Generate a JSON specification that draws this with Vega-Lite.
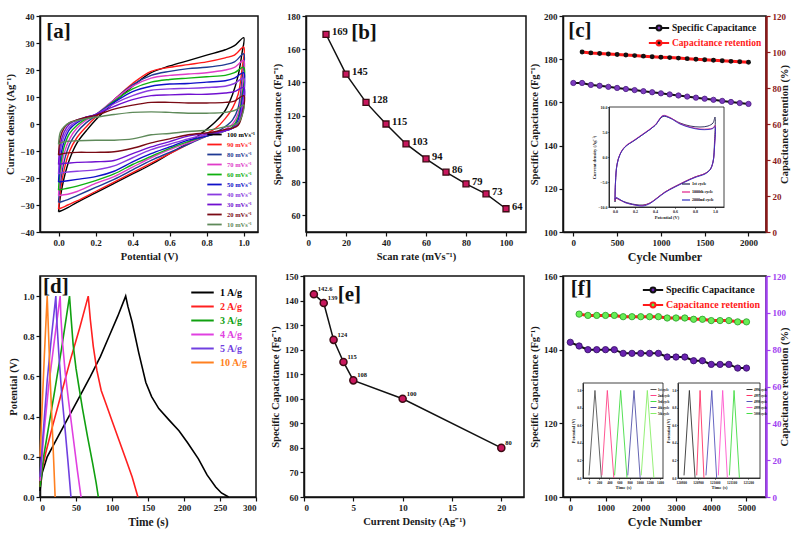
{
"$schema":"https://vega.github.io/schema/vega-lite/v6.json",
"background":"white",
"padding":{"left":5,"top":11,"right":5,"bottom":5},
"config":{
 "font":"Liberation Serif",
 "view":{"stroke":"#111","strokeWidth":1.5},
 "axis":{"labelFont":"Liberation Serif","labelFontWeight":"bold","labelFontSize":9,"labelColor":"#1a1a1a","labelOverlap":false,"tickCount":30,"titleFont":"Liberation Serif","titleFontWeight":"bold","titleFontSize":10.5,"titleColor":"#1a1a1a","grid":false,"domainColor":"#111","domainWidth":1.5,"tickColor":"#111","tickWidth":1.2,"tickSize":4,"labelPadding":2,"titlePadding":4},
 "legend":{"labelFont":"Liberation Serif","labelFontWeight":"bold","titleFont":"Liberation Serif"},
 "text":{"font":"Liberation Serif","fontWeight":"bold"}
},
"spacing":8,
"resolve":{"scale":{"color":"independent"},"legend":{"color":"independent"}},
"vconcat":[
{"hconcat":[
 {"width":218,"height":216,
  "layer":[
   {"data":{"values":[
    {"s":"100 mVs⁻¹","x":[0,0.01,0.03,0.06,0.1,0.15,0.2,0.3,0.4,0.5,0.6,0.7,0.8,0.9,0.95,1,0.99,0.97,0.94,0.9,0.85,0.8,0.7,0.6,0.5,0.4,0.3,0.2,0.1,0.05,0.02,0],"y":[-32.5,-27,-20,-13,-7,-2.5,1.5,8,14,19,21.5,23.5,25.5,27.5,29,32,26,18,11,5,1,-2,-7,-11,-15,-18.5,-22,-25.5,-29,-31,-32,-32.5]},
    {"s":"90 mVs⁻¹","x":[0,0.01,0.03,0.06,0.1,0.15,0.2,0.3,0.4,0.5,0.6,0.7,0.8,0.9,0.95,1,0.99,0.97,0.94,0.9,0.85,0.8,0.7,0.6,0.5,0.4,0.3,0.2,0.1,0.05,0.02,0],"y":[-31.5,-25,-17,-10,-5,-1,2.5,9,15,19.5,21,22,23,24.5,25.5,28.5,20,11,6,2,-1.5,-3.5,-7.5,-11,-14.5,-18,-21.5,-25,-28.5,-30,-31,-31.5]},
    {"s":"80 mVs⁻¹","x":[0,0.01,0.03,0.06,0.1,0.15,0.2,0.3,0.4,0.5,0.6,0.7,0.8,0.9,0.95,1,0.99,0.97,0.94,0.9,0.85,0.8,0.7,0.6,0.5,0.4,0.3,0.2,0.1,0.05,0.02,0],"y":[-29,-22,-14,-7.5,-3,0.5,3,9,14.5,18,19.5,20.5,21,22,23,26,16,6,1.5,-1,-3,-4.5,-7.5,-10.5,-13.5,-17,-20.5,-23.5,-26.5,-28,-28.7,-29]},
    {"s":"70 mVs⁻¹","x":[0,0.01,0.03,0.06,0.1,0.15,0.2,0.3,0.4,0.5,0.6,0.7,0.8,0.9,0.95,1,0.99,0.97,0.94,0.9,0.85,0.8,0.7,0.6,0.5,0.4,0.3,0.2,0.1,0.05,0.02,0],"y":[-26.5,-19,-11,-5.5,-1.5,1.5,3.5,9,14,17,18,18.5,19,20,21,23.5,13,4,0,-2,-3.5,-4.5,-7,-9.5,-12.5,-16,-19.5,-22,-25,-26,-26.3,-26.5]},
    {"s":"60 mVs⁻¹","x":[0,0.01,0.03,0.06,0.1,0.15,0.2,0.3,0.4,0.5,0.6,0.7,0.8,0.9,0.95,1,0.99,0.97,0.94,0.9,0.85,0.8,0.7,0.6,0.5,0.4,0.3,0.2,0.1,0.05,0.02,0],"y":[-24.5,-16,-8.5,-3.5,-0.5,2,3.5,8.5,13,15.5,16.5,17,17.5,18,19,21,10,2.5,-1,-2.5,-3.5,-4.5,-6.5,-9,-12,-15,-18.5,-21,-23,-23.8,-24.2,-24.5]},
    {"s":"50 mVs⁻¹","x":[0,0.01,0.03,0.06,0.1,0.15,0.2,0.3,0.4,0.5,0.6,0.7,0.8,0.9,0.95,1,0.99,0.97,0.94,0.9,0.85,0.8,0.7,0.6,0.5,0.4,0.3,0.2,0.1,0.05,0.02,0],"y":[-21.5,-13,-6.5,-2,0.5,2.5,3.5,8,12,14,14.8,15,15.5,16,17,19,8,1.5,-1.5,-2.5,-3.5,-4.5,-6,-8.5,-11,-14,-17.5,-19.5,-20.5,-21,-21.3,-21.5]},
    {"s":"40 mVs⁻¹","x":[0,0.01,0.03,0.06,0.1,0.15,0.2,0.3,0.4,0.5,0.6,0.7,0.8,0.9,0.95,1,0.99,0.97,0.94,0.9,0.85,0.8,0.7,0.6,0.5,0.4,0.3,0.2,0.1,0.05,0.02,0],"y":[-18.5,-10,-4.5,-1,1,2.5,3.5,7.5,10.5,12.5,13,13.2,13.5,14,15,17,6,0.5,-1.5,-2.5,-3.5,-4,-5.5,-7.5,-9.5,-12.5,-15.5,-17,-17.5,-17.8,-18,-18.5]},
    {"s":"30 mVs⁻¹","x":[0,0.01,0.03,0.06,0.1,0.15,0.2,0.3,0.4,0.5,0.6,0.7,0.8,0.9,0.95,1,0.99,0.97,0.94,0.9,0.85,0.8,0.7,0.6,0.5,0.4,0.3,0.2,0.1,0.05,0.02,0],"y":[-15,-7.5,-3,0,1.5,2.5,3.5,6.5,9,10.5,10.8,11,11,11.5,12,13.5,4,0,-1.5,-2.5,-3,-3.5,-4.5,-6.5,-8.5,-11,-13.5,-14,-14.2,-14.5,-14.7,-15]},
    {"s":"20 mVs⁻¹","x":[0,0.01,0.03,0.06,0.1,0.15,0.2,0.3,0.4,0.5,0.6,0.7,0.8,0.9,0.95,1,0.99,0.97,0.94,0.9,0.85,0.8,0.7,0.6,0.5,0.4,0.3,0.2,0.1,0.05,0.02,0],"y":[-11.5,-5,-1.5,0.5,1.5,2.5,3.2,5.5,7,8,8,7.8,7.8,8,8.5,10.5,3,-0.5,-1.5,-2,-2.8,-3.3,-4,-5.5,-7,-9,-10.3,-10.5,-10.5,-10.7,-11,-11.5]},
    {"s":"10 mVs⁻¹","x":[0,0.01,0.03,0.06,0.1,0.15,0.2,0.3,0.4,0.5,0.6,0.7,0.8,0.9,0.95,1,0.99,0.97,0.94,0.9,0.85,0.8,0.7,0.6,0.5,0.4,0.3,0.2,0.1,0.05,0.02,0],"y":[-7.5,-3,-1,0.5,1.3,2,2.5,3.5,4.3,4.5,4.3,4,4,4.3,5,7,3,0.5,-0.5,-1,-1.8,-2.3,-2.8,-3.5,-4,-5.5,-6,-6,-6.2,-6.4,-6.8,-7.5]}
   ]},
   "transform":[{"flatten":["x","y"]}],
   "mark":{"type":"line","strokeWidth":1.4,"interpolate":"catmull-rom"},
   "encoding":{
    "x":{"field":"x","type":"quantitative","scale":{"domain":[-0.1,1.077],"nice":false,"zero":false},"axis":{"values":[0,0.2,0.4,0.6,0.8,1],"tickCount":30,"format":".1f","title":"Potential (V)"}},
    "y":{"field":"y","type":"quantitative","scale":{"domain":[-40,40],"nice":false},"axis":{"values":[-40,-30,-20,-10,0,10,20,30,40],"tickCount":30,"title":"Current density (Ag⁻¹)"}},
    "color":{"field":"s","type":"nominal","scale":{"domain":["100 mVs⁻¹","90 mVs⁻¹","80 mVs⁻¹","70 mVs⁻¹","60 mVs⁻¹","50 mVs⁻¹","40 mVs⁻¹","30 mVs⁻¹","20 mVs⁻¹","10 mVs⁻¹"],"range":["#000000","#ff1a1a","#1f3a93","#e03cc8","#10b010","#1010c8","#8a3ce0","#7010d0","#7a0a14","#5f8a5a"]},
     "legend":{"orient":"bottom-right","title":null,"offset":3,"padding":0,"symbolType":"M-1.6,0L1.6,0","symbolSize":81,"symbolStrokeWidth":1.8,"labelFontSize":6.5,"rowPadding":0,"labelOffset":7,
      "encode":{"labels":{"update":{"fill":{"signal":"['#000000','#ff1a1a','#1f3a93','#e03cc8','#10b010','#1010c8','#8a3ce0','#7010d0','#7a0a14','#5f8a5a'][indexof(['100 mVs⁻¹','90 mVs⁻¹','80 mVs⁻¹','70 mVs⁻¹','60 mVs⁻¹','50 mVs⁻¹','40 mVs⁻¹','30 mVs⁻¹','20 mVs⁻¹','10 mVs⁻¹'], datum.value)]"}}}}}},
    "order":{"value":null}
   }},
   {"data":{"values":[{}]},"mark":{"type":"text","text":"[a]","fontSize":21,"color":"#111"},"encoding":{"x":{"datum":0.0},"y":{"datum":34}}}
  ]},
 {"hconcat":[
  {"width":220,"height":216,
   "data":{"values":[{"r":10,"c":169},{"r":20,"c":145},{"r":30,"c":128},{"r":40,"c":115},{"r":50,"c":103},{"r":60,"c":94},{"r":70,"c":86},{"r":80,"c":79},{"r":90,"c":73},{"r":100,"c":64}]},
   "layer":[
    {"mark":{"type":"line","color":"#111","strokeWidth":1.5},
     "encoding":{"x":{"field":"r","type":"quantitative","scale":{"domain":[0,110],"nice":false},"axis":{"values":[0,20,40,60,80,100],"tickCount":30,"title":"Scan rate (mVs⁻¹)"}},
      "y":{"field":"c","type":"quantitative","scale":{"domain":[50,180],"nice":false,"zero":false},"axis":{"values":[60,80,100,120,140,160,180],"tickCount":30,"title":"Specific Capacitance (Fg⁻¹)"}}}},
    {"mark":{"type":"point","shape":"square","filled":true,"size":36,"fill":"#c8175d","stroke":"#3d0b14","strokeWidth":1.3,"opacity":1},
     "encoding":{"x":{"field":"r","type":"quantitative"},"y":{"field":"c","type":"quantitative"}}},
    {"mark":{"type":"text","align":"left","dx":6,"dy":-2,"fontSize":10.5,"color":"#111"},
     "encoding":{"x":{"field":"r","type":"quantitative"},"y":{"field":"c","type":"quantitative"},"text":{"field":"c","type":"quantitative"}}},
    {"data":{"values":[{}]},"mark":{"type":"text","text":"[b]","fontSize":21,"color":"#111"},"encoding":{"x":{"datum":29},"y":{"datum":170}}}
   ]},
  {"width":203,"height":216,
   "layer":[
    {"layer":[
      {"data":{"values":[{"n":0,"c":169},{"n":100,"c":169},{"n":200,"c":168.1},{"n":300,"c":167.7},{"n":400,"c":167.2},{"n":500,"c":166.7},{"n":600,"c":166.2},{"n":700,"c":165.7},{"n":800,"c":165.2},{"n":900,"c":164.7},{"n":1000,"c":164.2},{"n":1100,"c":163.7},{"n":1200,"c":163.2},{"n":1300,"c":162.7},{"n":1400,"c":162.2},{"n":1500,"c":161.7},{"n":1600,"c":161.2},{"n":1700,"c":160.7},{"n":1800,"c":160.2},{"n":1900,"c":159.7},{"n":2000,"c":159.3}]},
       "layer":[
        {"mark":{"type":"line","strokeWidth":2},
         "encoding":{"x":{"field":"n","type":"quantitative","scale":{"domain":[-118,2200],"nice":false,"zero":false},"axis":{"values":[0,500,1000,1500,2000],"tickCount":30,"format":"d","title":"Cycle Number","titleFontSize":12}},
          "y":{"field":"c","type":"quantitative","scale":{"domain":[100,200],"nice":false,"zero":false},"axis":{"values":[100,120,140,160,180,200],"tickCount":30,"title":"Specific Capacitance (Fg⁻¹)"}},
          "color":{"datum":"Specific Capacitance","type":"nominal","scale":{"domain":["Specific Capacitance","Capacitance retention"],"range":["#111111","#ff1a1a"]},
           "legend":{"orient":"top-right","title":null,"offset":4,"padding":0,"symbolType":"M-1.45,0L-0.35,0M0.35,0L1.45,0M0.35,0A0.35,0.35,0,1,1,-0.35,0A0.35,0.35,0,1,1,0.35,0","symbolSize":196,"symbolStrokeWidth":2,"labelFontSize":9.5,"rowPadding":0,"labelOffset":5,
            "encode":{"symbols":{"update":{"fill":{"signal":"datum.value === 'Specific Capacitance' ? '#7d3cbf' : '#111111'"}}},"labels":{"update":{"fill":{"signal":"datum.value === 'Specific Capacitance' ? '#111111' : '#ff1a1a'"}}}}}}}},
        {"mark":{"type":"circle","size":28,"color":"#7d3cbf","stroke":"#4a1a80","strokeWidth":0.8,"opacity":1},
         "encoding":{"x":{"field":"n","type":"quantitative"},"y":{"field":"c","type":"quantitative"}}},
        {"data":{"values":[{}]},"mark":{"type":"text","text":"[c]","fontSize":21,"color":"#111"},"encoding":{"x":{"datum":74},"y":{"datum":193}}}
       ]},
      {"data":{"values":[{"n":100,"r":100},{"n":200,"r":99.5},{"n":300,"r":99.2},{"n":400,"r":98.9},{"n":500,"r":98.6},{"n":600,"r":98.3},{"n":700,"r":98.0},{"n":800,"r":97.7},{"n":900,"r":97.4},{"n":1000,"r":97.1},{"n":1100,"r":96.9},{"n":1200,"r":96.6},{"n":1300,"r":96.3},{"n":1400,"r":96.0},{"n":1500,"r":95.7},{"n":1600,"r":95.4},{"n":1700,"r":95.1},{"n":1800,"r":94.8},{"n":1900,"r":94.6},{"n":2000,"r":94.3}]},
       "layer":[
        {"mark":{"type":"line","strokeWidth":3},
         "encoding":{"x":{"field":"n","type":"quantitative","scale":{"domain":[-118,2200],"nice":false,"zero":false},"axis":{"values":[0,500,1000,1500,2000],"tickCount":30,"format":"d","title":"Cycle Number","titleFontSize":12}},
          "y":{"field":"r","type":"quantitative","scale":{"domain":[0,120],"nice":false},"axis":{"orient":"right","values":[0,20,40,60,80,100,120],"tickCount":30,"title":"Capacitance retention (%)","titleAngle":270,"domainColor":"#8b1a1a","domainWidth":2.5,"tickColor":"#8b1a1a","labelColor":"#8b1a1a"}},
          "color":{"datum":"Capacitance retention","type":"nominal"}}},
        {"mark":{"type":"circle","size":24,"color":"#111","opacity":1},
         "encoding":{"x":{"field":"n","type":"quantitative"},"y":{"field":"r","type":"quantitative"}}}
       ]}
     ],
     "resolve":{"scale":{"y":"independent"}}},
    {"layer":[
      {"data":{"values":[{}]},"mark":{"type":"rect","fill":"white","stroke":"#111","strokeWidth":0.8},
       "encoding":{"x":{"datum":-0.06,"type":"quantitative","scale":{"domain":[-0.06,1.09],"range":[46,161],"nice":false,"zero":false},"axis":{"orient":"bottom","offset":-25,"zindex":1,"values":[0,0.2,0.4,0.6,0.8,1],"tickCount":30,"format":".1f","title":"Potential (V)","labelFontSize":4,"titleFontSize":4.5,"tickSize":1.5,"tickWidth":0.5,"domainWidth":0.8,"labelPadding":0.5,"titlePadding":1}},
        "x2":{"datum":1.09},
        "y":{"datum":-10,"type":"quantitative","scale":{"domain":[-10,10],"range":[191,91],"nice":false,"zero":false},"axis":{"orient":"left","offset":-46,"zindex":1,"values":[-10,-5,0,5,10],"tickCount":30,"title":"Current density (Ag⁻¹)","labelFontSize":4,"titleFontSize":4.5,"tickSize":1.5,"tickWidth":0.5,"domainWidth":0.8,"labelPadding":0.5,"titlePadding":1}},
        "y2":{"datum":10}}},
      {"data":{"values":[
        {"k":"1st cycle","x":[0,0.005,0.02,0.05,0.1,0.2,0.3,0.4,0.48,0.55,0.65,0.75,0.85,0.93,0.98,1,0.995,0.98,0.95,0.9,0.8,0.7,0.6,0.5,0.42,0.35,0.28,0.2,0.1,0.05,0.01,0],"y":[-9,-5,-1.5,0.5,2,3.4,4.8,6.3,8.1,7.8,6.8,6.2,6.0,6.2,6.8,8,3,-1,-2.5,-3.3,-4,-4.9,-5.9,-7,-8.2,-9.2,-9.6,-9.5,-9,-8.6,-8.3,-9]},
        {"k":"1000th cycle","x":[0,0.005,0.02,0.05,0.1,0.2,0.3,0.4,0.48,0.55,0.65,0.75,0.85,0.93,0.98,1,0.995,0.98,0.95,0.9,0.8,0.7,0.6,0.5,0.42,0.35,0.28,0.2,0.1,0.05,0.01,0],"y":[-8.7,-5,-1.5,0.6,2.1,3.5,4.9,6.4,8.3,7.9,6.7,6.0,5.6,5.6,5.8,6.3,2,-1,-2.6,-3.3,-4,-4.9,-5.9,-7,-8.2,-9.2,-9.7,-9.6,-9.1,-8.6,-8.2,-8.7]},
        {"k":"2000nd cycle","x":[0,0.005,0.02,0.05,0.1,0.2,0.3,0.4,0.48,0.55,0.65,0.75,0.85,0.93,0.98,1,0.995,0.98,0.95,0.9,0.8,0.7,0.6,0.5,0.42,0.35,0.28,0.2,0.1,0.05,0.01,0],"y":[-8.5,-5,-1.6,0.5,2,3.4,4.8,6.3,8.2,7.8,6.6,5.9,5.5,5.5,5.7,6.1,2,-1,-2.6,-3.4,-4.1,-5,-6,-7.1,-8.3,-9.3,-9.8,-9.6,-9.1,-8.5,-8.1,-8.5]}
       ]},
       "transform":[{"flatten":["x","y"]}],
       "mark":{"type":"line","strokeWidth":0.9,"interpolate":"catmull-rom"},
       "encoding":{"x":{"field":"x","type":"quantitative","scale":{"domain":[-0.06,1.09],"range":[46,161],"nice":false,"zero":false},"axis":{"orient":"bottom","offset":-25,"zindex":1,"values":[0,0.2,0.4,0.6,0.8,1],"tickCount":30,"format":".1f","title":"Potential (V)","labelFontSize":4,"titleFontSize":4.5,"tickSize":1.5,"tickWidth":0.5,"domainWidth":0.8,"labelPadding":0.5,"titlePadding":1}},
        "y":{"field":"y","type":"quantitative","scale":{"domain":[-10,10],"range":[191,91],"nice":false,"zero":false},"axis":{"orient":"left","offset":-46,"zindex":1,"values":[-10,-5,0,5,10],"tickCount":30,"title":"Current density (Ag⁻¹)","labelFontSize":4,"titleFontSize":4.5,"tickSize":1.5,"tickWidth":0.5,"domainWidth":0.8,"labelPadding":0.5,"titlePadding":1}},
        "color":{"field":"k","type":"nominal","scale":{"domain":["1st cycle","1000th cycle","2000nd cycle"],"range":["#202050","#e0208a","#3030c0"]},"legend":{"orient":"none","legendX":118,"legendY":163,"title":null,"padding":0,"symbolType":"stroke","symbolSize":64,"symbolStrokeWidth":1.2,"labelFontSize":4,"rowPadding":0,"labelOffset":1}},
        "order":{"value":null}}}
     ]}
   ],
   "resolve":{"scale":{"x":"independent","y":"independent","color":"independent"}}}
 ],"spacing":37,"bounds":"flush","resolve":{"scale":{"color":"independent"},"legend":{"color":"independent"}}}
],"spacing":48,"bounds":"flush","resolve":{"scale":{"color":"independent"},"legend":{"color":"independent"}}},
{"hconcat":[
 {"width":216,"height":221,
  "layer":[
   {"data":{"values":[
     {"g":"1 A/g","t":[0,3,10,25,40,55,70,84,96,108,119,122,128,137,147,155,165,180,193,205,220,232,244,252,262],"v":[0.03,0.12,0.2,0.3,0.4,0.5,0.6,0.7,0.8,0.9,1.0,0.95,0.87,0.72,0.57,0.5,0.44,0.38,0.33,0.27,0.19,0.11,0.05,0.02,0]},
     {"g":"2 A/g","t":[0,2,8,18,30,42,55,67,70,74,79,85,92,100,110,120,128,136],"v":[0.05,0.12,0.22,0.36,0.52,0.68,0.84,1.0,0.88,0.75,0.63,0.53,0.46,0.38,0.28,0.18,0.1,0]},
     {"g":"3 A/g","t":[0,5,12,20,30,41,43,46,50,54,59,66,73,78,81],"v":[0.05,0.2,0.35,0.52,0.74,1.0,0.9,0.76,0.64,0.55,0.44,0.3,0.17,0.07,0]},
     {"g":"4 A/g","t":[0,5,12,20,28,29,31,35,40,46,52,57],"v":[0.08,0.3,0.55,0.78,1.0,0.9,0.78,0.62,0.47,0.3,0.13,0]},
     {"g":"5 A/g","t":[0,4,10,16,22,23,26,30,35,39,43],"v":[0.1,0.3,0.58,0.8,1.0,0.9,0.72,0.52,0.33,0.17,0]},
     {"g":"10 A/g","t":[0,3,6,10,11,14,17,19,21],"v":[0.2,0.45,0.7,1.0,0.9,0.6,0.35,0.18,0]}
    ]},
    "transform":[{"flatten":["t","v"]}],
    "mark":{"type":"line","strokeWidth":1.6},
    "encoding":{
     "x":{"field":"t","type":"quantitative","scale":{"domain":[0,300],"nice":false},"axis":{"values":[0,50,100,150,200,250,300],"tickCount":30,"title":"Time (s)","titleFontSize":11.5}},
     "y":{"field":"v","type":"quantitative","scale":{"domain":[0,1.1],"nice":false},"axis":{"values":[0,0.2,0.4,0.6,0.8,1],"tickCount":30,"format":".1f","title":"Potential (V)"}},
     "color":{"field":"g","type":"nominal","scale":{"domain":["1 A/g","2 A/g","3 A/g","4 A/g","5 A/g","10 A/g"],"range":["#000000","#ff2020","#10a010","#e040e0","#7040e0","#ff8020"]},
      "legend":{"orient":"top-right","title":null,"offset":8,"padding":0,"symbolType":"M-1.5,0L1.5,0","symbolSize":225,"symbolStrokeWidth":2,"labelFontSize":10,"rowPadding":0,"labelOffset":9,
       "encode":{"labels":{"update":{"fill":{"signal":"['#000000','#ff2020','#10a010','#e040e0','#7040e0','#ff8020'][indexof(['1 A/g','2 A/g','3 A/g','4 A/g','5 A/g','10 A/g'], datum.value)]"}}}}}},
     "order":{"value":null}
    }},
   {"data":{"values":[{}]},"mark":{"type":"text","text":"[d]","fontSize":21,"color":"#111"},"encoding":{"x":{"datum":22},"y":{"datum":1.045}}}
  ]},
 {"hconcat":[
  {"width":220,"height":221,
   "data":{"values":[{"j":1,"c":142.6,"l":"142.6"},{"j":2,"c":139,"l":"139"},{"j":3,"c":124,"l":"124"},{"j":4,"c":115,"l":"115"},{"j":5,"c":107.5,"l":"108"},{"j":10,"c":100,"l":"100"},{"j":20,"c":80,"l":"80"}]},
   "layer":[
    {"mark":{"type":"line","color":"#111","strokeWidth":1.5},
     "encoding":{"x":{"field":"j","type":"quantitative","scale":{"domain":[0,22.3],"nice":false},"axis":{"values":[0,5,10,15,20],"tickCount":30,"title":"Current Density (Ag⁻¹)"}},
      "y":{"field":"c","type":"quantitative","scale":{"domain":[60,150],"nice":false,"zero":false},"axis":{"values":[60,70,80,90,100,110,120,130,140,150],"tickCount":30,"title":"Specific Capacitance (Fg⁻¹)"}}}},
    {"mark":{"type":"circle","size":50,"fill":"#c8175d","stroke":"#3d0b14","strokeWidth":1.5,"opacity":1},
     "encoding":{"x":{"field":"j","type":"quantitative"},"y":{"field":"c","type":"quantitative"}}},
    {"mark":{"type":"text","align":"left","dx":4,"dy":-5,"fontSize":6.5,"color":"#111"},
     "encoding":{"x":{"field":"j","type":"quantitative"},"y":{"field":"c","type":"quantitative"},"text":{"field":"l","type":"nominal"}}},
    {"data":{"values":[{}]},"mark":{"type":"text","text":"[e]","fontSize":21,"color":"#111"},"encoding":{"x":{"datum":4.6},"y":{"datum":142.3}}}
   ]},
  {"width":203,"height":221,
   "layer":[
    {"layer":[
      {"data":{"values":[{"n":0,"c":142},{"n":250,"c":141},{"n":500,"c":140},{"n":750,"c":140},{"n":1000,"c":140},{"n":1250,"c":140},{"n":1500,"c":139},{"n":1750,"c":139},{"n":2000,"c":139},{"n":2250,"c":139},{"n":2500,"c":139},{"n":2750,"c":138},{"n":3000,"c":138},{"n":3250,"c":138},{"n":3500,"c":137},{"n":3750,"c":137},{"n":4000,"c":136},{"n":4250,"c":136},{"n":4500,"c":136},{"n":4750,"c":135},{"n":5000,"c":135}]},
       "layer":[
        {"mark":{"type":"line","strokeWidth":2},
         "encoding":{"x":{"field":"n","type":"quantitative","scale":{"domain":[-207,5554],"nice":false,"zero":false},"axis":{"values":[0,1000,2000,3000,4000,5000],"tickCount":30,"format":"d","title":"Cycle Number","titleFontSize":12}},
          "y":{"field":"c","type":"quantitative","scale":{"domain":[100,160],"nice":false,"zero":false},"axis":{"values":[100,120,140,160],"tickCount":30,"title":"Specific Capacitance (Fg⁻¹)"}},
          "color":{"datum":"Specific Capacitance","type":"nominal","scale":{"domain":["Specific Capacitance","Capacitance retention"],"range":["#111111","#ff1a1a"]},
           "legend":{"orient":"top-right","title":null,"offset":6,"padding":0,"symbolType":"M-1.45,0L-0.35,0M0.35,0L1.45,0M0.35,0A0.35,0.35,0,1,1,-0.35,0A0.35,0.35,0,1,1,0.35,0","symbolSize":196,"symbolStrokeWidth":2,"labelFontSize":10,"rowPadding":0,"labelOffset":5,
            "encode":{"symbols":{"update":{"fill":{"signal":"datum.value === 'Specific Capacitance' ? '#6a22b0' : '#55ee44'"}}},"labels":{"update":{"fill":{"signal":"datum.value === 'Specific Capacitance' ? '#111111' : '#ff1a1a'"}}}}}}}},
        {"mark":{"type":"circle","size":40,"color":"#6a22b0","stroke":"#300a60","strokeWidth":0.8,"opacity":1},
         "encoding":{"x":{"field":"n","type":"quantitative"},"y":{"field":"c","type":"quantitative"}}},
        {"data":{"values":[{}]},"mark":{"type":"text","text":"[f]","fontSize":21,"color":"#111"},"encoding":{"x":{"datum":310},"y":{"datum":156.4}}}
       ]},
      {"data":{"values":[{"n":250,"r":99.3},{"n":500,"r":98.6},{"n":750,"r":98.6},{"n":1000,"r":98.6},{"n":1250,"r":98.6},{"n":1500,"r":97.9},{"n":1750,"r":97.9},{"n":2000,"r":97.9},{"n":2250,"r":97.9},{"n":2500,"r":97.9},{"n":2750,"r":97.2},{"n":3000,"r":97.2},{"n":3250,"r":97.2},{"n":3500,"r":96.5},{"n":3750,"r":96.5},{"n":4000,"r":95.8},{"n":4250,"r":95.8},{"n":4500,"r":95.8},{"n":4750,"r":95.1},{"n":5000,"r":95.1}]},
       "layer":[
        {"mark":{"type":"line","strokeWidth":3},
         "encoding":{"x":{"field":"n","type":"quantitative","scale":{"domain":[-207,5554],"nice":false,"zero":false},"axis":{"values":[0,1000,2000,3000,4000,5000],"tickCount":30,"format":"d","title":"Cycle Number","titleFontSize":12}},
          "y":{"field":"r","type":"quantitative","scale":{"domain":[0,120],"nice":false},"axis":{"orient":"right","values":[0,20,40,60,80,100,120],"tickCount":30,"title":"Capacitance retention (%)","titleAngle":270,"domainColor":"#a040f0","domainWidth":2.5,"tickColor":"#a040f0","labelColor":"#a040f0"}},
          "color":{"datum":"Capacitance retention","type":"nominal"}}},
        {"mark":{"type":"circle","size":40,"color":"#66ee55","stroke":"#2a9a2a","strokeWidth":0.8,"opacity":1},
         "encoding":{"x":{"field":"n","type":"quantitative"},"y":{"field":"r","type":"quantitative"}}}
       ]}
     ],
     "resolve":{"scale":{"y":"independent"}}},
    {"layer":[
      {"data":{"values":[{}]},"mark":{"type":"rect","fill":"white","stroke":"#111","strokeWidth":0.8},
       "encoding":{"x":{"datum":-118,"type":"quantitative","scale":{"domain":[-118,1460],"range":[20,100],"nice":false,"zero":false},"axis":{"orient":"bottom","offset":-19,"zindex":1,"values":[0,200,400,600,800,1000,1200,1400],"tickCount":30,"format":"d","title":"Time (s)","labelFontSize":3.5,"titleFontSize":4.5,"tickSize":1.5,"tickWidth":0.5,"domainWidth":0.8,"labelPadding":0.5,"titlePadding":1}},
        "x2":{"datum":1460},
        "y":{"datum":0,"type":"quantitative","scale":{"domain":[0,1.085],"range":[202,107],"nice":false,"zero":false},"axis":{"orient":"left","offset":-20,"zindex":1,"values":[0,0.2,0.4,0.6,0.8,1],"tickCount":30,"format":".1f","title":"Potential (V)","labelFontSize":3.5,"titleFontSize":4.5,"tickSize":1.5,"tickWidth":0.5,"domainWidth":0.8,"labelPadding":0.5,"titlePadding":1}},
        "y2":{"datum":1.085}}},
      {"data":{"values":[
        {"k":"1st cycle","t":[0,118,245],"v":[0.03,1,0]},
        {"k":"2nd cycle","t":[255,362,490],"v":[0.03,1,0]},
        {"k":"3rd cycle","t":[505,625,750],"v":[0.03,1,0]},
        {"k":"4th cycle","t":[765,888,1010],"v":[0.03,1,0]},
        {"k":"5th cycle","t":[1030,1151,1280],"v":[0.03,1,0]}
       ]},
       "transform":[{"flatten":["t","v"]}],
       "mark":{"type":"line","strokeWidth":0.9},
       "encoding":{"x":{"field":"t","type":"quantitative","scale":{"domain":[-118,1460],"range":[20,100],"nice":false,"zero":false},"axis":{"orient":"bottom","offset":-19,"zindex":1,"values":[0,200,400,600,800,1000,1200,1400],"tickCount":30,"format":"d","title":"Time (s)","labelFontSize":3.5,"titleFontSize":4.5,"tickSize":1.5,"tickWidth":0.5,"domainWidth":0.8,"labelPadding":0.5,"titlePadding":1}},
        "y":{"field":"v","type":"quantitative","scale":{"domain":[0,1.085],"range":[202,107],"nice":false,"zero":false},"axis":{"orient":"left","offset":-20,"zindex":1,"values":[0,0.2,0.4,0.6,0.8,1],"tickCount":30,"format":".1f","title":"Potential (V)","labelFontSize":3.5,"titleFontSize":4.5,"tickSize":1.5,"tickWidth":0.5,"domainWidth":0.8,"labelPadding":0.5,"titlePadding":1}},
        "color":{"field":"k","type":"nominal","scale":{"domain":["1st cycle","2nd cycle","3rd cycle","4th cycle","5th cycle"],"range":["#555555","#ff4488","#44dd44","#5555aa","#88ee66"]},"legend":{"orient":"none","legendX":87,"legendY":110,"title":null,"padding":0,"symbolType":"stroke","symbolSize":36,"symbolStrokeWidth":1,"labelFontSize":3,"rowPadding":0,"labelOffset":1}},
        "order":{"value":null}}}
     ]},
    {"layer":[
      {"data":{"values":[{}]},"mark":{"type":"rect","fill":"white","stroke":"#111","strokeWidth":0.8},
       "encoding":{"x":{"datum":120780,"type":"quantitative","scale":{"domain":[120780,121270],"range":[115,197],"nice":false,"zero":false},"axis":{"orient":"bottom","offset":-19,"zindex":1,"values":[120800,120900,121000,121100,121200],"tickCount":30,"format":"d","title":"Time (s)","labelFontSize":3.5,"titleFontSize":4.5,"tickSize":1.5,"tickWidth":0.5,"domainWidth":0.8,"labelPadding":0.5,"titlePadding":1}},
        "x2":{"datum":121270},
        "y":{"datum":0,"type":"quantitative","scale":{"domain":[0,1.085],"range":[202,107],"nice":false,"zero":false},"axis":{"orient":"left","offset":-115,"zindex":1,"values":[0,0.2,0.4,0.6,0.8,1],"tickCount":30,"format":".1f","title":"Potential (V)","labelFontSize":3.5,"titleFontSize":4.5,"tickSize":1.5,"tickWidth":0.5,"domainWidth":0.8,"labelPadding":0.5,"titlePadding":1}},
        "y2":{"datum":1.085}}},
      {"data":{"values":[
        {"k":"4996 cycle","t":[120816,120848,120882],"v":[0.03,1,0]},
        {"k":"4997 cycle","t":[120892,120912,120935],"v":[0.03,1,0]},
        {"k":"4998 cycle","t":[120947,120982,121011],"v":[0.03,1,0]},
        {"k":"4999 cycle","t":[121021,121047,121075],"v":[0.03,1,0]},
        {"k":"5000 cycle","t":[121087,121115,121147],"v":[0.03,1,0]}
       ]},
       "transform":[{"flatten":["t","v"]}],
       "mark":{"type":"line","strokeWidth":0.9},
       "encoding":{"x":{"field":"t","type":"quantitative","scale":{"domain":[120780,121270],"range":[115,197],"nice":false,"zero":false},"axis":{"orient":"bottom","offset":-19,"zindex":1,"values":[120800,120900,121000,121100,121200],"tickCount":30,"format":"d","title":"Time (s)","labelFontSize":3.5,"titleFontSize":4.5,"tickSize":1.5,"tickWidth":0.5,"domainWidth":0.8,"labelPadding":0.5,"titlePadding":1}},
        "y":{"field":"v","type":"quantitative","scale":{"domain":[0,1.085],"range":[202,107],"nice":false,"zero":false},"axis":{"orient":"left","offset":-115,"zindex":1,"values":[0,0.2,0.4,0.6,0.8,1],"tickCount":30,"format":".1f","title":"Potential (V)","labelFontSize":3.5,"titleFontSize":4.5,"tickSize":1.5,"tickWidth":0.5,"domainWidth":0.8,"labelPadding":0.5,"titlePadding":1}},
        "color":{"field":"k","type":"nominal","scale":{"domain":["4996 cycle","4997 cycle","4998 cycle","4999 cycle","5000 cycle"],"range":["#333333","#ff3366","#5555bb","#ff55cc","#44dd44"]},"legend":{"orient":"none","legendX":183,"legendY":110,"title":null,"padding":0,"symbolType":"stroke","symbolSize":36,"symbolStrokeWidth":1,"labelFontSize":3,"rowPadding":0,"labelOffset":1}},
        "order":{"value":null}}}
     ]}
   ],
   "resolve":{"scale":{"x":"independent","y":"independent","color":"independent"}}}
 ],"spacing":39,"bounds":"flush","resolve":{"scale":{"color":"independent"},"legend":{"color":"independent"}}}
],"spacing":48,"bounds":"flush","resolve":{"scale":{"color":"independent"},"legend":{"color":"independent"}}}
]
}
